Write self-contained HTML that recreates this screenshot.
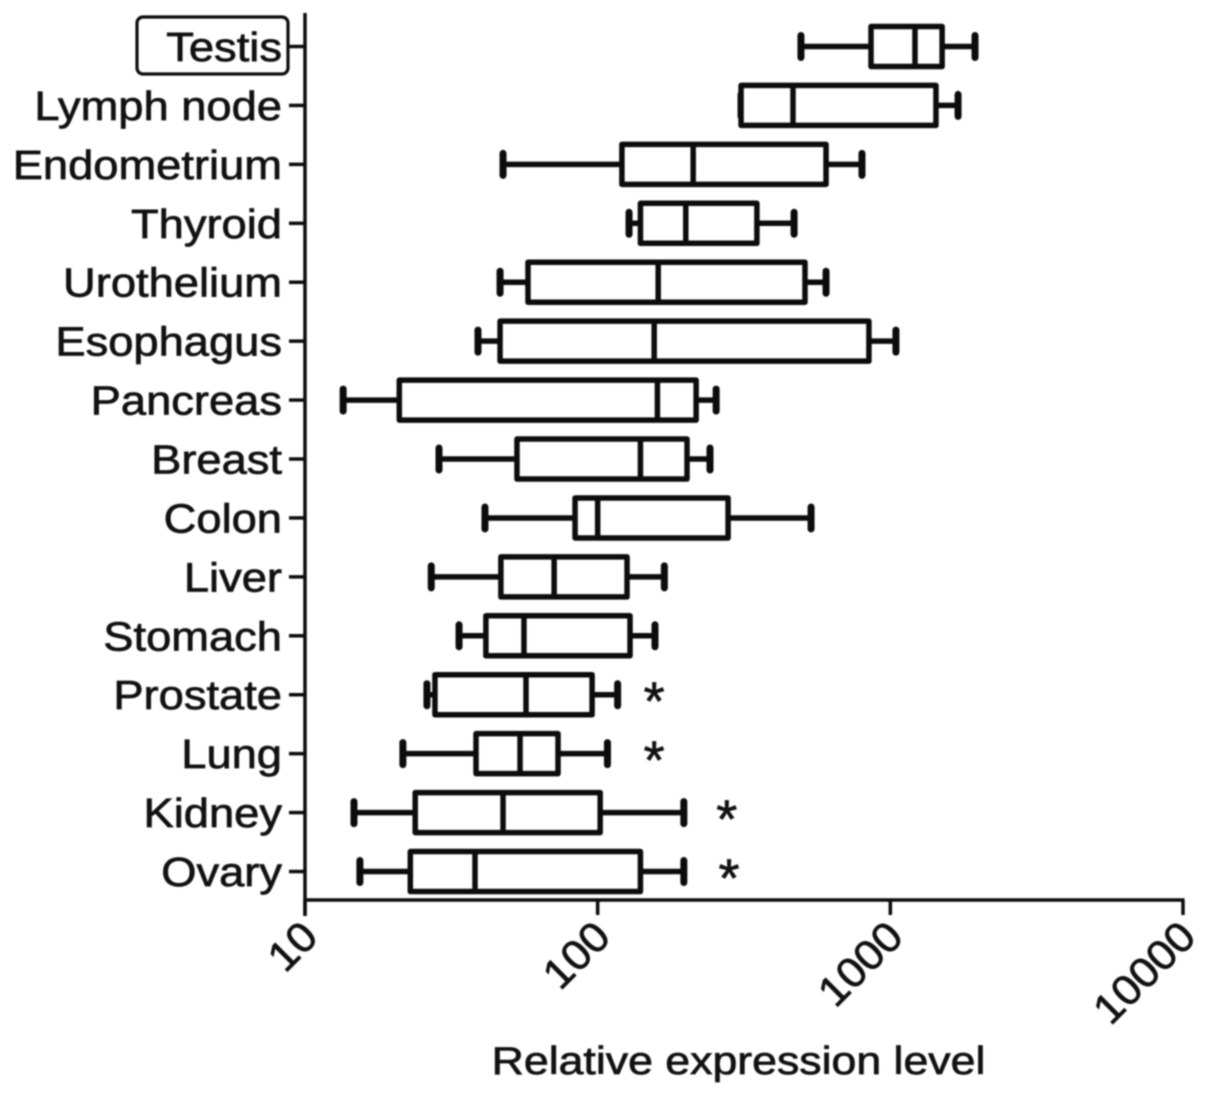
<!DOCTYPE html>
<html>
<head>
<meta charset="utf-8">
<title>Relative expression level box plot</title>
<style>
html,body{margin:0;padding:0;background:#fff;width:1205px;height:1095px;overflow:hidden}
svg{display:block;filter:blur(0.7px)}
text{font-family:"Liberation Sans",sans-serif;fill:#111;stroke:#111;stroke-width:0.7px}
</style>
</head>
<body>
<svg id="chart" xmlns="http://www.w3.org/2000/svg" width="1205" height="1095" viewBox="0 0 1205 1095"></svg>
<script>
const categories = ["Testis","Lymph node","Endometrium","Thyroid","Urothelium","Esophagus","Pancreas","Breast","Colon","Liver","Stomach","Prostate","Lung","Kidney","Ovary"];
const whiskerLow = [495,309,47.5,128,46.4,39,13.5,28.7,41.2,27,33.6,26.1,21.6,14.7,15.4];
const quartile1 = [859,309,121,140,57.8,46.4,21,53,83.7,46.7,41.5,27.8,38.4,23.8,22.9];
const medians = [1214,465,212,200,161,156,160,140,100,71,56,56.9,54.3,47.5,38.1];
const quartile3 = [1503,1432,603,350,511,845,217,202,279,126,129,95.7,73.2,102,140];
const whiskerHigh = [1947,1704,800,469,603,1045,254,242,536,169,157,117,108,197,197];
const xTickValues = [10,100,1000,10000];
const xTickLabels = ["10","100","1000","10000"];
const starCategories = ["Prostate","Lung","Kidney","Ovary"];
const starValues = [156,156,276,281];

const svg = document.getElementById('chart');
const NS = 'http://www.w3.org/2000/svg';
const plot = {left:305,right:1183,bottom:900,top:13,firstY:46.5,stepY:58.93};
const ink = '#0c0c0c';
const logMin = Math.log10(10), logMax = Math.log10(10000);
function xScale(v){return plot.left + (Math.log10(v)-logMin)/(logMax-logMin)*(plot.right-plot.left);}
function yScale(i){return plot.firstY + i*plot.stepY;}
function make(tag, attrs, parent){
  const el = document.createElementNS(NS, tag);
  for (const k in attrs) el.setAttribute(k, attrs[k]);
  (parent||svg).appendChild(el);
  return el;
}
function seg(x1,y1,x2,y2,w,parent){
  return make('line',{x1:x1,y1:y1,x2:x2,y2:y2,stroke:ink,'stroke-width':w,'stroke-linecap':'butt'},parent);
}

/* Highlight around Testis */
const hl = make('rect',{x:137,y:17,width:151,height:57,rx:6,fill:'none',stroke:ink,'stroke-width':3.2});



/* Axes */
const yAxis = seg(plot.left,plot.top,plot.left,916,3.5);


const xAxis = seg(plot.left,plot.bottom,plot.right+1.5,plot.bottom,3.5);



/* X ticks */
xTickValues.forEach(function(v,i){
  const x = xScale(v);
  const t = seg(x,plot.bottom,x,915,3.5);
  
  
  const lx = x+15, ly = 939;
  const lab = make('text',{transform:'translate('+lx+','+ly+') rotate(-45) scale(1.06,1)','text-anchor':'end','font-size':42});
  lab.textContent = xTickLabels[i];
  
  
});

/* Categories */
categories.forEach(function(name,i){
  const y = yScale(i);
  const tick = seg(289,y,plot.left,y,3.5);
  
  
  const lab = make('text',{transform:'translate(282,'+(y+14.5)+') scale(1.105,1)','text-anchor':'end','font-size':41});
  lab.textContent = name;
  
  

  const g = make('g',{});
  
  
  const xl = xScale(whiskerLow[i]), q1 = xScale(quartile1[i]), md = xScale(medians[i]), q3 = xScale(quartile3[i]), xh = xScale(whiskerHigh[i]);
  const wl = seg(xl,y,q1,y,5.5,g);
  
  
  const wh = seg(q3,y,xh,y,5.5,g);
  
  
  const cl = make('line',{x1:xl,y1:y-11,x2:xl,y2:y+11,stroke:ink,'stroke-width':7,'stroke-linecap':'round'},g);
  
  
  const ch = make('line',{x1:xh,y1:y-11,x2:xh,y2:y+11,stroke:ink,'stroke-width':7,'stroke-linecap':'round'},g);
  
  
  const box = make('rect',{x:q1,y:y-20,width:q3-q1,height:40,fill:'#fff',stroke:ink,'stroke-width':5.5,'stroke-linejoin':'round'},g);
  
  
  const m = seg(md,y-20,md,y+20,5.5,g);
  
  
});

/* Significance stars */
starCategories.forEach(function(name,i){
  const idx = categories.indexOf(name);
  const s = make('text',{x:xScale(starValues[i]),y:yScale(idx)+25,'text-anchor':'middle','font-size':54});
  s.textContent = '*';
  
  
});

/* X axis title */
const title = make('text',{transform:'translate(738.5,1074) scale(1.145,1)','text-anchor':'middle','font-size':39});
title.textContent = 'Relative expression level';


</script>
</body>
</html>
